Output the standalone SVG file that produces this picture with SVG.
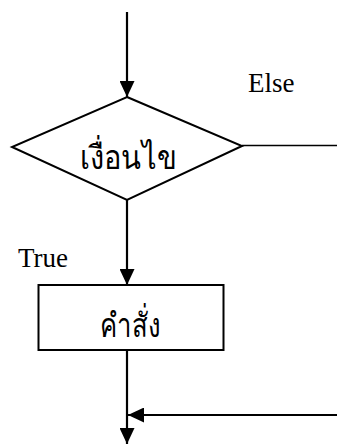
<svg xmlns="http://www.w3.org/2000/svg" width="337" height="444" viewBox="0 0 337 444">
  <style>
    .shape { fill: #ffffff; stroke: #000000; stroke-width: 2; }
    .line { fill: none; stroke: #000000; stroke-width: 2.2; }
    .thin { fill: none; stroke: #000000; stroke-width: 1.6; }
    .lbl { font-family: "Liberation Serif", "Times New Roman", serif; font-size: 27px; fill: #000000; }
    .thai { font-family: "Liberation Serif", "Noto Sans", serif; font-size: 33px; font-weight: 300; fill: #000000; }
  </style>
  <defs>
    <marker id="arrow" viewBox="0 0 16 15" refX="16" refY="7.5" markerWidth="16" markerHeight="15" markerUnits="userSpaceOnUse" orient="auto">
      <path d="M0,0 L16,7.5 L0,15 Z" fill="#000000"/>
    </marker>
  </defs>

  <g id="connectors">
    <line class="line" x1="127" y1="12" x2="127" y2="97" marker-end="url(#arrow)"/>
    <line class="line" x1="127" y1="200" x2="127" y2="285" marker-end="url(#arrow)"/>
    <line class="line" x1="127" y1="350" x2="127" y2="444" marker-end="url(#arrow)"/>
    <line class="thin" x1="242" y1="145.5" x2="337" y2="145.5"/>
    <line class="line" x1="337" y1="415" x2="128" y2="415" marker-end="url(#arrow)"/>
  </g>

  <g id="condition">
    <polygon class="shape" points="127,97 242,146 127,200 12,147"/>
    <text class="thai" x="80" y="169" textLength="97" lengthAdjust="spacingAndGlyphs">เงื่อนไข</text>
  </g>

  <g id="statement">
    <rect class="shape" x="38.5" y="285" width="185" height="65" stroke-width="1.6"/>
    <text class="thai" x="100" y="337" textLength="60" lengthAdjust="spacingAndGlyphs">คำสั่ง</text>
  </g>

  <g id="labels">
    <text class="lbl" x="248" y="92">Else</text>
    <text class="lbl" x="18" y="267">True</text>
  </g>
</svg>
